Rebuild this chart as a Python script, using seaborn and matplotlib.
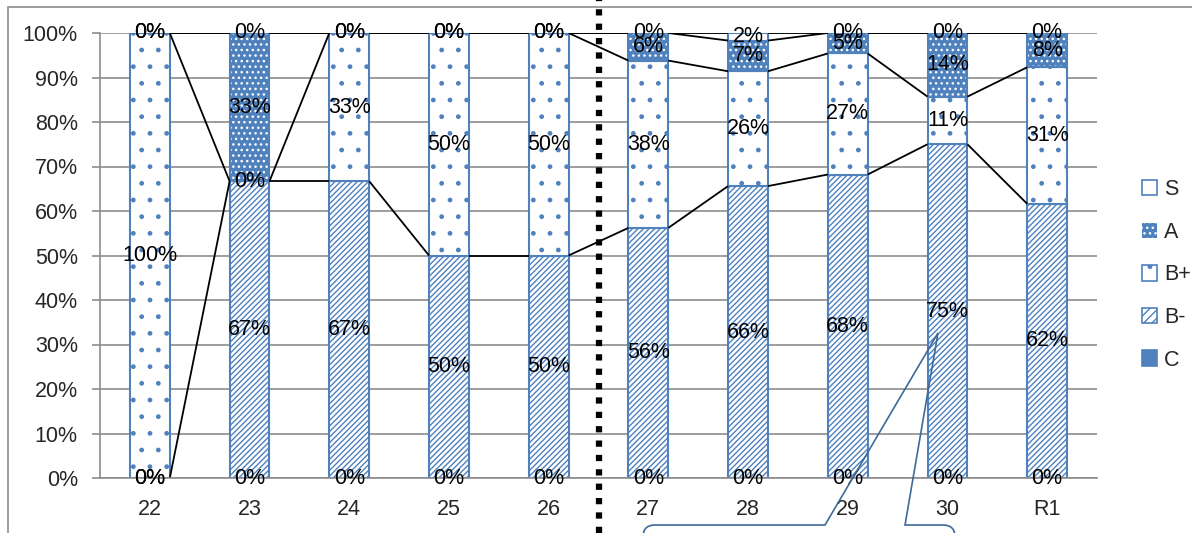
import numpy as np
import matplotlib
matplotlib.use('Agg')
import matplotlib.pyplot as plt
import seaborn as sns
from matplotlib.patches import Patch, PathPatch, Rectangle
from matplotlib.path import Path
from matplotlib.lines import Line2D
from matplotlib.transforms import blended_transform_factory

sns.set_style('white')
plt.rcParams['font.family'] = ['Liberation Sans', 'DejaVu Sans']
plt.rcParams['hatch.linewidth'] = 1.0

# ── data (percent of each year's total)
years = ['22', '23', '24', '25', '26', '27', '28', '29', '30', 'R1']
grade_c = [0, 0, 0, 0, 0, 0, 0, 0, 0, 0]
grade_bm = [0, 66.7, 66.7, 50, 50, 56.2, 65.6, 68.2, 75.0, 61.6]
grade_bp = [100, 0, 33.3, 50, 50, 37.6, 25.8, 27.2, 10.7, 30.7]
grade_a = [0, 33.3, 0, 0, 0, 6.2, 6.9, 4.6, 14.3, 7.7]
grade_s = [0, 0, 0, 0, 0, 0, 1.7, 0, 0, 0]

series_names = ['C', 'B-', 'B+', 'A', 'S']
series_vals = [grade_c, grade_bm, grade_bp, grade_a, grade_s]

BLUE = '#4F81BD'
GRID = '#8C8C8C'
FS = 15.5
W, H = 1192, 533

fig = plt.figure(figsize=(W / 100, H / 100), dpi=100)
ax = fig.add_axes([100 / W, 1 - 478 / H, 997 / W, 445 / H])

# chart area frame (only top/left visible in crop)
fig.patches.append(Rectangle((8 / W, -0.2), 1.2, 1 - 7 / H + 0.2, transform=fig.transFigure,
                             fill=False, edgecolor=GRID, linewidth=1.2, zorder=0))

styles = {
    'C':  dict(color=BLUE, edgecolor=BLUE, hatch=None),
    'B-': dict(color='white', edgecolor=BLUE, hatch='//////'),
    'B+': dict(color='white', edgecolor=BLUE, hatch='.'),
    'A':  dict(color=BLUE, edgecolor='white', hatch='...'),
    'S':  dict(color='white', edgecolor=BLUE, hatch=None),
}

bw = 0.4
bottom = np.zeros(len(years))
tops = []
for name, vals in zip(series_names, series_vals):
    st = styles[name]
    sns.barplot(x=years, y=vals, bottom=bottom.copy(), ax=ax, width=bw, saturation=1,
                color=st['color'], edgecolor=st['edgecolor'], hatch=st['hatch'],
                linewidth=0 if name == 'A' else 1.5, errorbar=None, zorder=2)
    if name == 'A':
        # outline on top of the white dot pattern
        sns.barplot(x=years, y=vals, bottom=bottom.copy(), ax=ax, width=bw, fill=False,
                    color=BLUE, edgecolor=BLUE, linewidth=1.5, errorbar=None, zorder=3)
    # data labels at segment centres
    for i, v in enumerate(vals):
        ax.text(i, bottom[i] + v / 2, f'{v:.0f}%', ha='center', va='center',
                fontsize=FS, color='black', zorder=6)
    bottom = bottom + np.array(vals)
    tops.append((name, bottom.copy()))

# series lines between adjacent bars
for name, top in tops:
    if name == 'C':
        continue
    for i in range(len(years) - 1):
        ax.plot([i + bw / 2, i + 1 - bw / 2], [top[i], top[i + 1]], color='black',
                linewidth=1.3, zorder=4, solid_capstyle='butt')

ax.set_xlim(-0.5, len(years) - 0.5)
ax.set_ylim(0, 100)
ax.set_yticks(np.arange(0, 101, 10))
ax.set_yticklabels([f'{t}%' for t in range(0, 101, 10)], fontsize=FS)
ax.set_xticks(range(len(years)))
ax.set_xticklabels(years, fontsize=FS)
ax.set_xticks(np.arange(-0.5, len(years)), minor=True)
ax.tick_params(axis='x', which='major', length=0, pad=15)
ax.tick_params(axis='x', which='minor', length=5, color=GRID, width=1.2)
ax.tick_params(axis='y', length=5.5, color=GRID, width=1.2, pad=10.5, left=True)
ax.set_xlabel('')
ax.set_ylabel('')
ax.yaxis.grid(True, color=GRID, linewidth=1.2, zorder=0)
ax.set_axisbelow(True)
for side in ['top', 'right']:
    ax.spines[side].set_visible(False)
for side in ['left', 'bottom']:
    ax.spines[side].set_color(GRID)
    ax.spines[side].set_linewidth(1.2)
    ax.spines[side].set_zorder(5)

# thick dotted separator between 26 and 27
sep = Line2D([4.5, 4.5], [0, 1], transform=blended_transform_factory(ax.transData, fig.transFigure),
             color='black', linewidth=4.5, linestyle=(0, (1, 1.3)), dash_capstyle='butt',
             zorder=10)
fig.lines.append(sep)

# legend
handles = [
    Patch(facecolor='white', edgecolor=BLUE, linewidth=1.2, label='S'),
    Patch(facecolor=BLUE, edgecolor='white', hatch='...', linewidth=0, label='A'),
    Patch(facecolor='white', edgecolor=BLUE, hatch='.', linewidth=1.2, label='B+'),
    Patch(facecolor='white', edgecolor=BLUE, hatch='////', linewidth=1.2, label='B-'),
    Patch(facecolor=BLUE, edgecolor=BLUE, linewidth=1.2, label='C'),
]
fig.legend(handles=handles, loc='center left', bbox_to_anchor=(1133 / W, 1 - 275 / H),
           frameon=False, fontsize=FS, handlelength=0.7, handleheight=0.7,
           handletextpad=0.35, labelspacing=1.0, borderaxespad=0)

# callout box (partially cut off at bottom)
def fp(x, y):
    return (x / W, 1 - y / H)

verts = [fp(643, 600), fp(643, 537), fp(643, 525), fp(655, 525), fp(825, 525),
         fp(938, 333), fp(905, 525), fp(943, 525), fp(955, 525), fp(955, 537), fp(955, 600)]
codes = [Path.MOVETO, Path.LINETO, Path.CURVE3, Path.CURVE3, Path.LINETO,
         Path.LINETO, Path.LINETO, Path.LINETO, Path.CURVE3, Path.CURVE3, Path.LINETO]
fig.patches.append(PathPatch(Path(verts, codes), transform=fig.transFigure, facecolor='none',
                             edgecolor='#3E6A9A', linewidth=1.2, zorder=11))

fig.savefig('out.png', dpi=100)
